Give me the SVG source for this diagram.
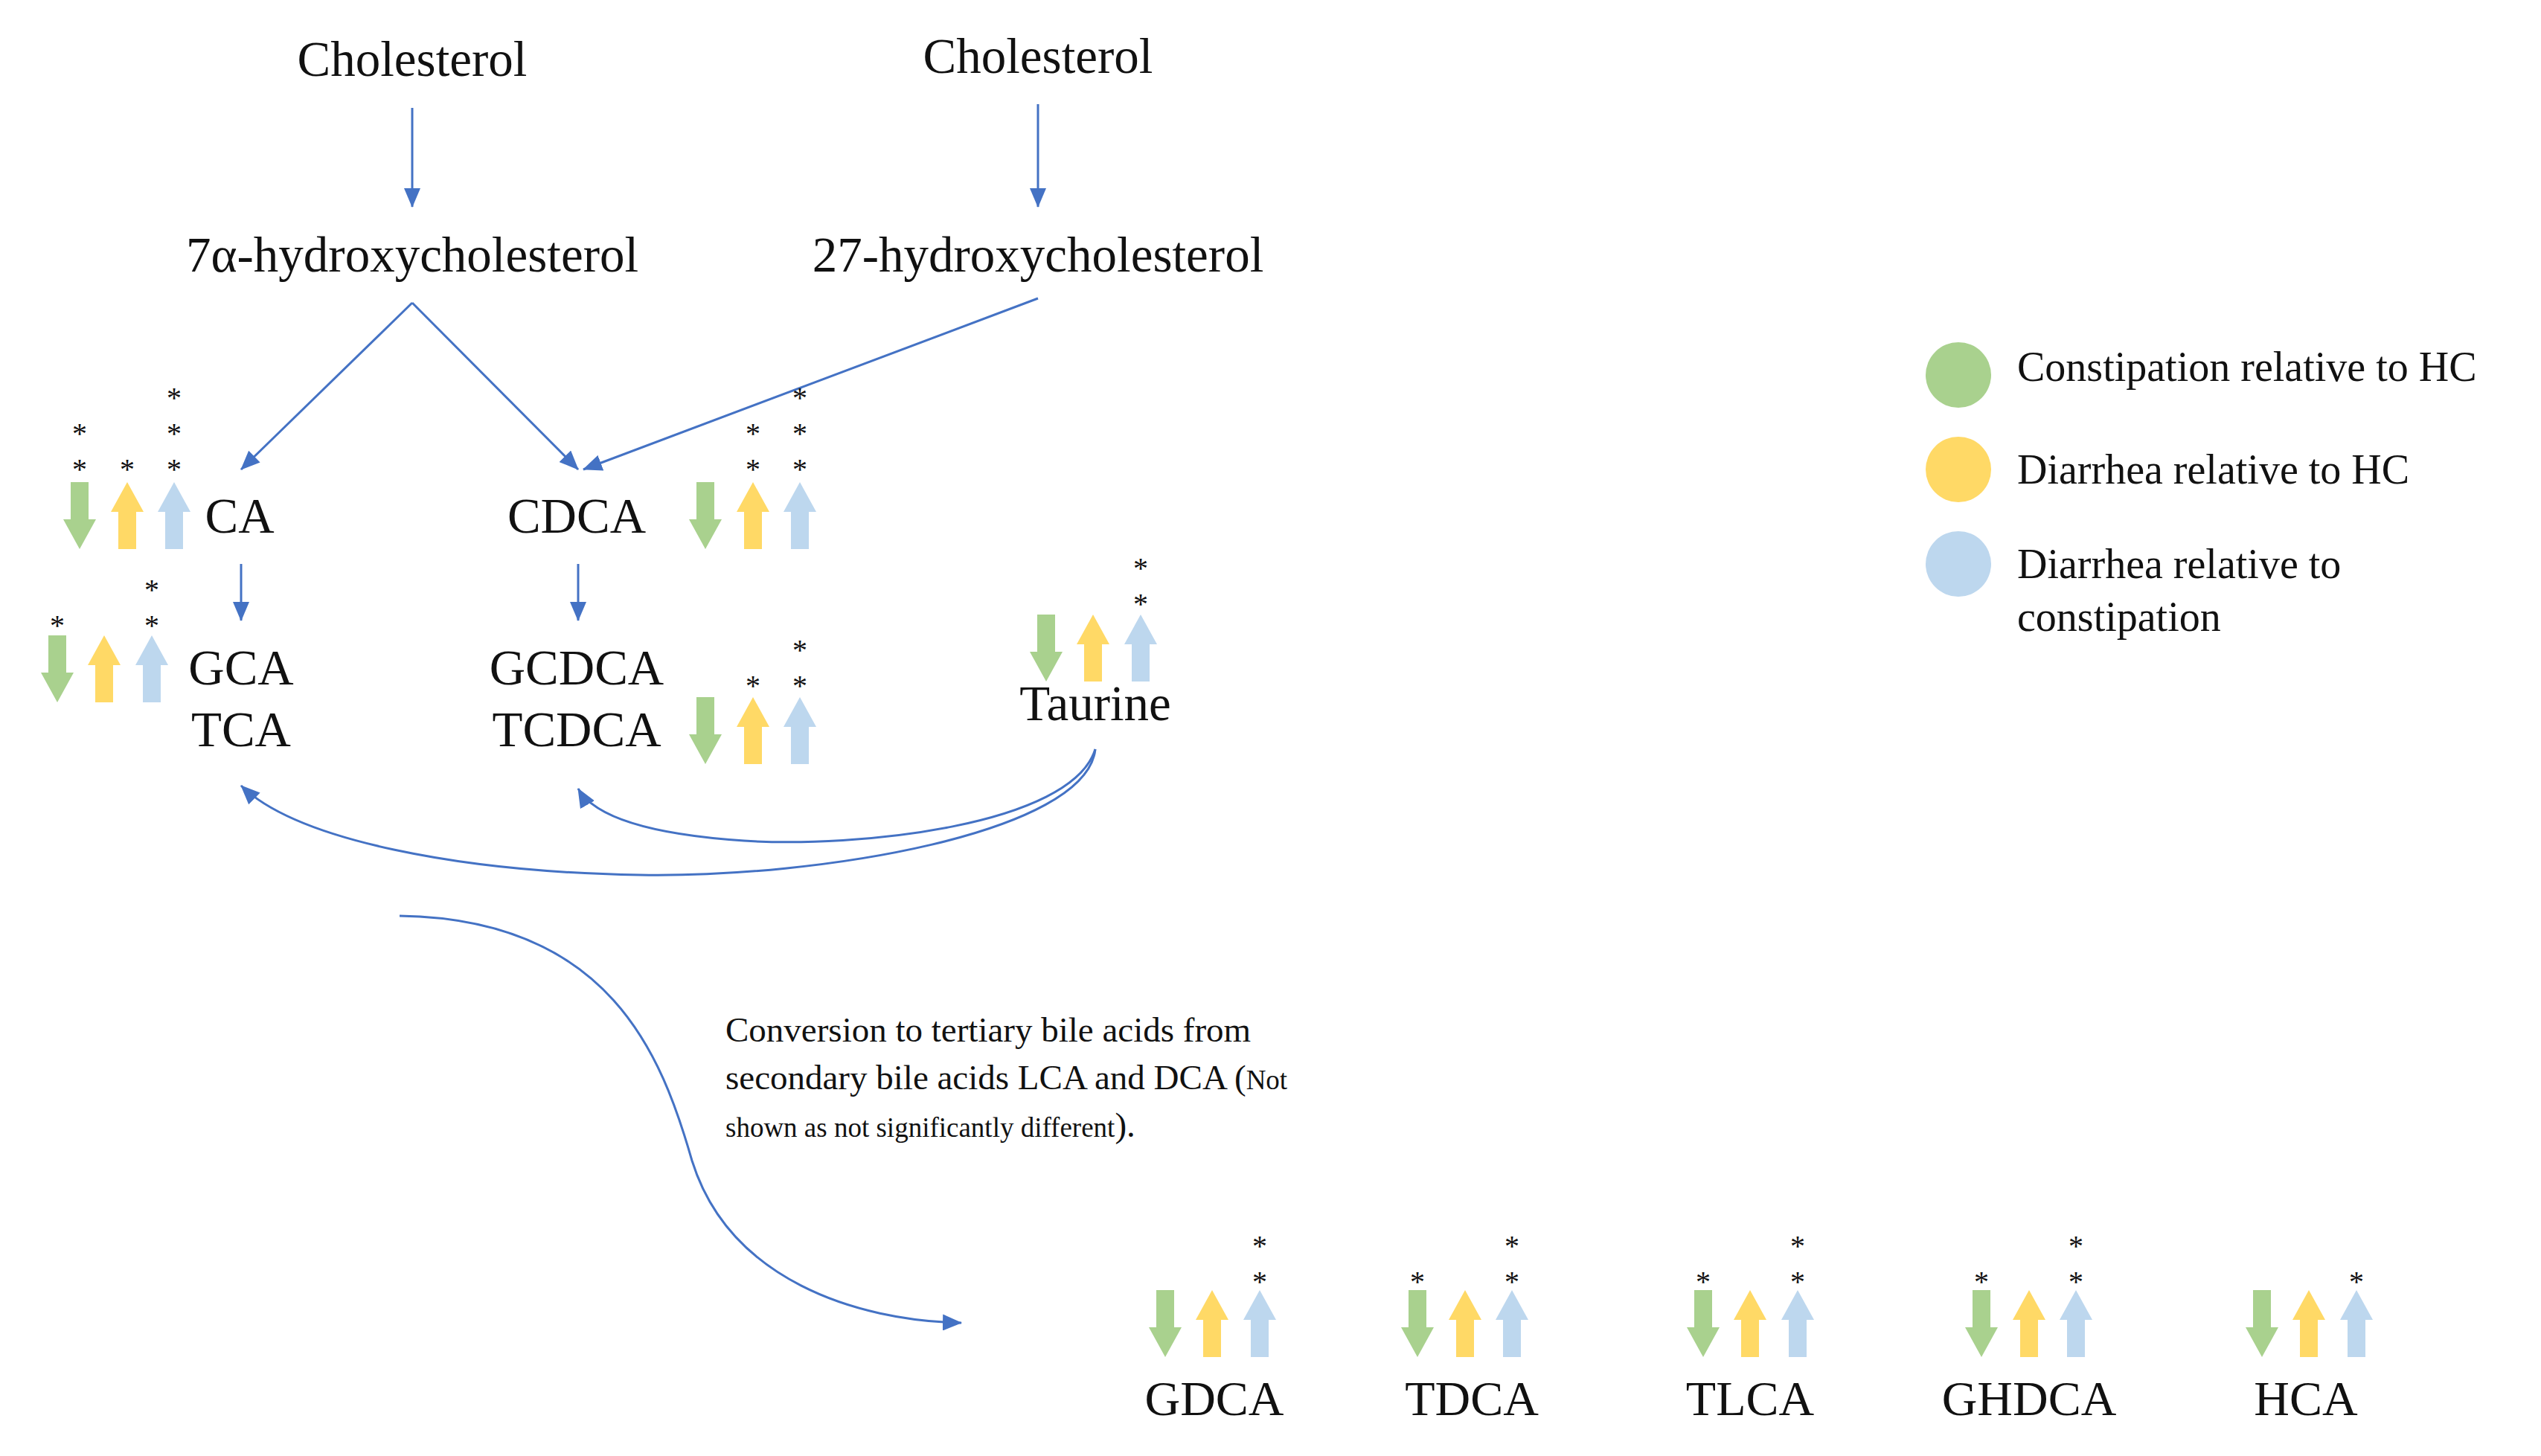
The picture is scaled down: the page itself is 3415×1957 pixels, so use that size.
<svg xmlns="http://www.w3.org/2000/svg" width="3415" height="1957" viewBox="0 0 3415 1957" font-family="'Liberation Serif', 'Times New Roman', serif">
<style>
text{font-family:'Liberation Serif','Times New Roman',serif;fill:#111}
.t{font-size:67px;text-anchor:middle}
.b{font-size:66px;text-anchor:middle}
.l{font-size:56px}
.s{font-size:40px;text-anchor:middle}
.c{font-size:47px}
.cs{font-size:37px}
.e{fill:none;stroke:#4472c4;stroke-width:3}
.g{fill:#a9d18e}.y{fill:#ffd966}.u{fill:#bdd7ee}
</style>
<defs>
<marker id="ah2" markerWidth="26" markerHeight="22" refX="25" refY="11" orient="auto" markerUnits="userSpaceOnUse" viewBox="0 0 26 22"><path d="M0,0 L26,11 L0,22 z" fill="#4472c4"/></marker>
<path id="up" d="M0,0 L22,40 L12,40 L12,90 L-12,90 L-12,40 L-22,40 z"/>
<path id="dn" d="M0,90 L22,50 L12,50 L12,0 L-12,0 L-12,50 L-22,50 z"/>
</defs>
<g id="connectors">
<line class="e" x1="554" y1="145" x2="554" y2="278" marker-end="url(#ah2)"/>
<line class="e" x1="1395" y1="140" x2="1395" y2="278" marker-end="url(#ah2)"/>
<line class="e" x1="554" y1="407" x2="324" y2="631" marker-end="url(#ah2)"/>
<line class="e" x1="554" y1="407" x2="777" y2="631" marker-end="url(#ah2)"/>
<line class="e" x1="1395" y1="401" x2="784" y2="631" marker-end="url(#ah2)"/>
<line class="e" x1="324" y1="758" x2="324" y2="834" marker-end="url(#ah2)"/>
<line class="e" x1="777" y1="758" x2="777" y2="834" marker-end="url(#ah2)"/>
<path class="e" d="M1472,1007 C1460,1120 1100,1180 860,1176 C620,1172 400,1130 324,1056" marker-end="url(#ah2)"/>
<path class="e" d="M1472,1007 C1440,1110 1150,1140 1000,1130 C880,1122 800,1100 777,1060" marker-end="url(#ah2)"/>
<path class="e" d="M537,1231 C820,1235 890,1420 930,1560 C980,1720 1150,1775 1292,1778" marker-end="url(#ah2)"/>
</g>
<g id="n-chol1"><text class="t" x="554" y="102">Cholesterol</text></g>
<g id="n-chol2"><text class="t" x="1395" y="98">Cholesterol</text></g>
<g id="n-7a"><text class="t" x="554" y="365">7α-hydroxycholesterol</text></g>
<g id="n-27"><text class="t" x="1395" y="365">27-hydroxycholesterol</text></g>
<g id="n-ca"><text class="t" x="322" y="716">CA</text>
<use href="#dn" class="g" x="107" y="648"/><use href="#up" class="y" x="171" y="648"/><use href="#up" class="u" x="234" y="648"/>
<text class="s" x="107" y="596">*</text><text class="s" x="107" y="644">*</text><text class="s" x="171" y="644">*</text>
<text class="s" x="234" y="548">*</text><text class="s" x="234" y="596">*</text><text class="s" x="234" y="644">*</text></g>
<g id="n-cdca"><text class="t" x="775" y="716">CDCA</text>
<use href="#dn" class="g" x="948" y="648"/><use href="#up" class="y" x="1012" y="648"/><use href="#up" class="u" x="1075" y="648"/>
<text class="s" x="1012" y="596">*</text><text class="s" x="1012" y="644">*</text>
<text class="s" x="1075" y="548">*</text><text class="s" x="1075" y="596">*</text><text class="s" x="1075" y="644">*</text></g>
<g id="n-gca"><text class="t" x="324" y="920">GCA</text><text class="t" x="324" y="1003">TCA</text>
<use href="#dn" class="g" x="77" y="854"/><use href="#up" class="y" x="140" y="854"/><use href="#up" class="u" x="204" y="854"/>
<text class="s" x="77" y="854">*</text><text class="s" x="204" y="806">*</text><text class="s" x="204" y="854">*</text></g>
<g id="n-gcdca"><text class="t" x="775" y="920">GCDCA</text><text class="t" x="775" y="1003">TCDCA</text>
<use href="#dn" class="g" x="948" y="937"/><use href="#up" class="y" x="1012" y="937"/><use href="#up" class="u" x="1075" y="937"/>
<text class="s" x="1012" y="935">*</text><text class="s" x="1075" y="887">*</text><text class="s" x="1075" y="935">*</text></g>
<g id="n-taurine"><text class="t" x="1472" y="968">Taurine</text>
<use href="#dn" class="g" x="1406" y="826"/><use href="#up" class="y" x="1469" y="826"/><use href="#up" class="u" x="1533" y="826"/>
<text class="s" x="1533" y="777">*</text><text class="s" x="1533" y="825">*</text></g>
<g id="n-note">
<text class="c" x="975" y="1400">Conversion to tertiary bile acids from</text>
<text class="c" x="975" y="1464">secondary bile acids LCA and DCA (<tspan class="cs">Not</tspan></text>
<text class="c" x="975" y="1528"><tspan class="cs">shown as not significantly different</tspan>).</text>
</g>
<g id="n-gdca"><text class="b" x="1632" y="1902">GDCA</text>
<use href="#dn" class="g" x="1566" y="1734"/><use href="#up" class="y" x="1629" y="1734"/><use href="#up" class="u" x="1693" y="1734"/>
<text class="s" x="1693" y="1688">*</text><text class="s" x="1693" y="1736">*</text></g>
<g id="n-tdca"><text class="b" x="1978" y="1902">TDCA</text>
<use href="#dn" class="g" x="1905" y="1734"/><use href="#up" class="y" x="1969" y="1734"/><use href="#up" class="u" x="2032" y="1734"/>
<text class="s" x="1905" y="1736">*</text><text class="s" x="2032" y="1688">*</text><text class="s" x="2032" y="1736">*</text></g>
<g id="n-tlca"><text class="b" x="2352" y="1902">TLCA</text>
<use href="#dn" class="g" x="2289" y="1734"/><use href="#up" class="y" x="2352" y="1734"/><use href="#up" class="u" x="2416" y="1734"/>
<text class="s" x="2289" y="1736">*</text><text class="s" x="2416" y="1688">*</text><text class="s" x="2416" y="1736">*</text></g>
<g id="n-ghdca"><text class="b" x="2727" y="1902">GHDCA</text>
<use href="#dn" class="g" x="2663" y="1734"/><use href="#up" class="y" x="2727" y="1734"/><use href="#up" class="u" x="2790" y="1734"/>
<text class="s" x="2663" y="1736">*</text><text class="s" x="2790" y="1688">*</text><text class="s" x="2790" y="1736">*</text></g>
<g id="n-hca"><text class="b" x="3099" y="1902">HCA</text>
<use href="#dn" class="g" x="3040" y="1734"/><use href="#up" class="y" x="3103" y="1734"/><use href="#up" class="u" x="3167" y="1734"/>
<text class="s" x="3167" y="1736">*</text></g>
<g id="legend">
<circle class="g" cx="2632" cy="504" r="44"/><text class="l" x="2711" y="512">Constipation relative to HC</text>
<circle class="y" cx="2632" cy="631" r="44"/><text class="l" x="2711" y="650">Diarrhea relative to HC</text>
<circle class="u" cx="2632" cy="758" r="44"/><text class="l" x="2711" y="777">Diarrhea relative to</text><text class="l" x="2711" y="848">constipation</text>
</g>
</svg>
